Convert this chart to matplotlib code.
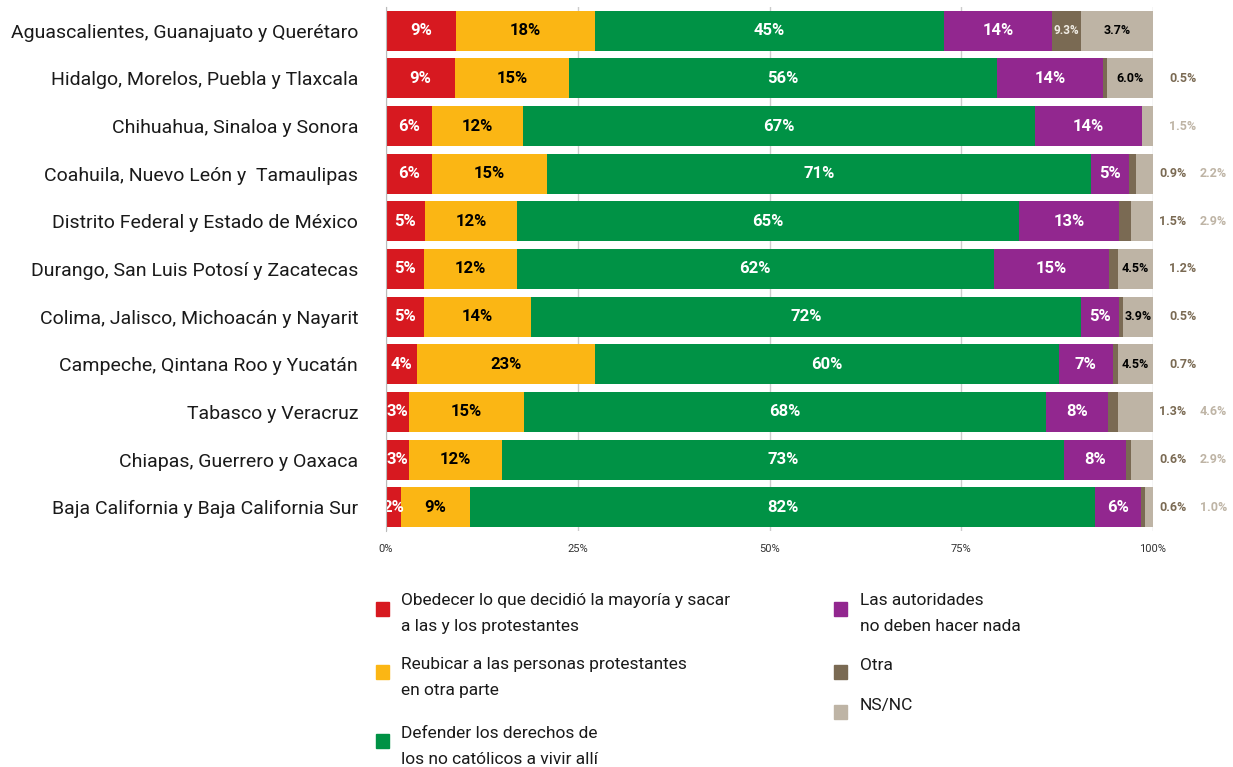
import matplotlib
matplotlib.use("Agg")
import matplotlib.pyplot as plt
from matplotlib.patches import Rectangle
import numpy as np

plt.rcParams['font.family'] = ['Roboto', 'DejaVu Sans']

regions = [
    "Aguascalientes, Guanajuato y Querétaro",
    "Hidalgo, Morelos, Puebla y Tlaxcala",
    "Chihuahua, Sinaloa y Sonora",
    "Coahuila, Nuevo León y  Tamaulipas",
    "Distrito Federal y Estado de México",
    "Durango, San Luis Potosí y Zacatecas",
    "Colima, Jalisco, Michoacán y Nayarit",
    "Campeche, Qintana Roo y Yucatán",
    "Tabasco y Veracruz",
    "Chiapas, Guerrero y Oaxaca",
    "Baja California y Baja California Sur",
]

obedecer  = [9, 9, 6, 6, 5, 5, 5, 4, 3, 3, 2]
reubicar  = [18, 15, 12, 15, 12, 12, 14, 23, 15, 12, 9]
defender  = [45, 56, 67, 71, 65, 62, 72, 60, 68, 73, 82]
nada      = [14, 14, 14, 5, 13, 15, 5, 7, 8, 8, 6]
otra      = [3.7, 0.5, 0.0, 0.9, 1.5, 1.2, 0.5, 0.7, 1.3, 0.6, 0.6]
nsnc      = [9.3, 6.0, 1.5, 2.2, 2.9, 4.5, 3.9, 4.5, 4.6, 2.9, 1.0]

# label texts as printed in the chart
otra_labels = ["9.3%", "0.5%", "", "0.9%", "1.5%", "1.2%", "0.5%", "0.7%", "1.3%", "0.6%", "0.6%"]
nsnc_labels = ["3.7%", "6.0%", "1.5%", "2.2%", "2.9%", "4.5%", "3.9%", "4.5%", "4.6%", "2.9%", "1.0%"]
otra_inside = [True, False, False, False, False, False, False, False, False, False, False]
nsnc_inside = [True, True, False, False, False, True, True, True, False, False, False]

series_names = [
    "Obedecer lo que decidió la mayoría y sacar\na las y los protestantes",
    "Reubicar a las personas protestantes\nen otra parte",
    "Defender los derechos de\nlos no católicos a vivir allí",
    "Las autoridades\nno deben hacer nada",
    "Otra",
    "NS/NC",
]
colors = ["#d71920", "#fbb614", "#009245", "#92278f", "#7a6a53", "#beb4a5"]
text_colors = ["white", "black", "white", "white", "#f0ece4", "black"]
xticks = [0, 25, 50, 75, 100]
xtick_labels = ["0%", "25%", "50%", "75%", "100%"]

W, H = 1233, 767
fig = plt.figure(figsize=(W / 100, H / 100), dpi=100)
ax = fig.add_axes([386 / W, 1 - 531 / H, (1153 - 386) / W, (531 - 7) / H])

data = np.array([obedecer, reubicar, defender, nada, otra, nsnc], dtype=float)
totals = data.sum(axis=0)
norm = data / totals * 100
y = np.arange(len(regions))

left = np.zeros(len(regions))
for k in range(6):
    ax.barh(y, norm[k], left=left, height=0.84, color=colors[k], zorder=3, linewidth=0)
    for i in range(len(regions)):
        cx = left[i] + norm[k][i] / 2
        if k < 4:
            ax.text(cx, y[i], f"{data[k][i]:.0f}%", ha="center", va="center",
                    color=text_colors[k], fontsize=12, fontweight="bold", zorder=4)
    left += norm[k]

# small categories
for i in range(len(regions)):
    lo = norm[:4, i].sum()
    otra_c = lo + norm[4][i] / 2
    ns_c = lo + norm[4][i] + norm[5][i] / 2
    outside = []
    if otra_labels[i]:
        if otra_inside[i]:
            ax.text(otra_c, y[i], otra_labels[i], ha="center", va="center",
                    color=text_colors[4], fontsize=8.5, fontweight="bold", zorder=4)
        else:
            outside.append((otra_labels[i], colors[4]))
    if nsnc_labels[i]:
        if nsnc_inside[i]:
            ax.text(ns_c, y[i], nsnc_labels[i], ha="center", va="center",
                    color="black", fontsize=9, fontweight="bold", zorder=4)
        else:
            outside.append((nsnc_labels[i], colors[5]))
    if len(outside) == 1:
        ax.text(103.9, y[i], outside[0][0], ha="center", va="center",
                color=outside[0][1], fontsize=9, fontweight="bold", clip_on=False)
    elif len(outside) == 2:
        ax.text(102.6, y[i], outside[0][0], ha="center", va="center",
                color=outside[0][1], fontsize=9, fontweight="bold", clip_on=False)
        ax.text(107.9, y[i], outside[1][0], ha="center", va="center",
                color=outside[1][1], fontsize=9, fontweight="bold", clip_on=False)

ax.set_xlim(0, 100)
ax.set_ylim(len(regions) - 0.5, -0.5)
ax.set_yticks(y)
ax.set_yticklabels(regions, fontsize=14, color="#1a1a1a")
ax.set_xticks(xticks)
ax.set_xticklabels(xtick_labels, fontsize=8, color="#333333")
ax.tick_params(axis="y", length=0, pad=20)
ax.tick_params(axis="x", length=0, pad=9)
ax.xaxis.grid(True, color="#cccccc", linewidth=1, zorder=0)
for s in ["top", "right", "bottom"]:
    ax.spines[s].set_visible(False)
ax.spines["left"].set_color("#bbbbbb")
ax.spines["left"].set_zorder(5)

# legend
leg_items = [
    (0, 376, 602, 401, 600),
    (1, 376, 665, 401, 664),
    (2, 376, 734, 401, 733),
    (3, 834, 602, 860, 600),
    (4, 834, 665, 860, 665),
    (5, 834, 705, 860, 705),
]
for k, sx, sy, tx, ty in leg_items:
    fig.patches.append(Rectangle((sx / W, 1 - (sy + 14) / H), 13 / W, 14 / H,
                                 transform=fig.transFigure, color=colors[k]))
    fig.text(tx / W, 1 - (ty - 7) / H, series_names[k], ha="left", va="top",
             fontsize=12.5, color="#1a1a1a", linespacing=1.9)

fig.savefig("out.png", dpi=100)
